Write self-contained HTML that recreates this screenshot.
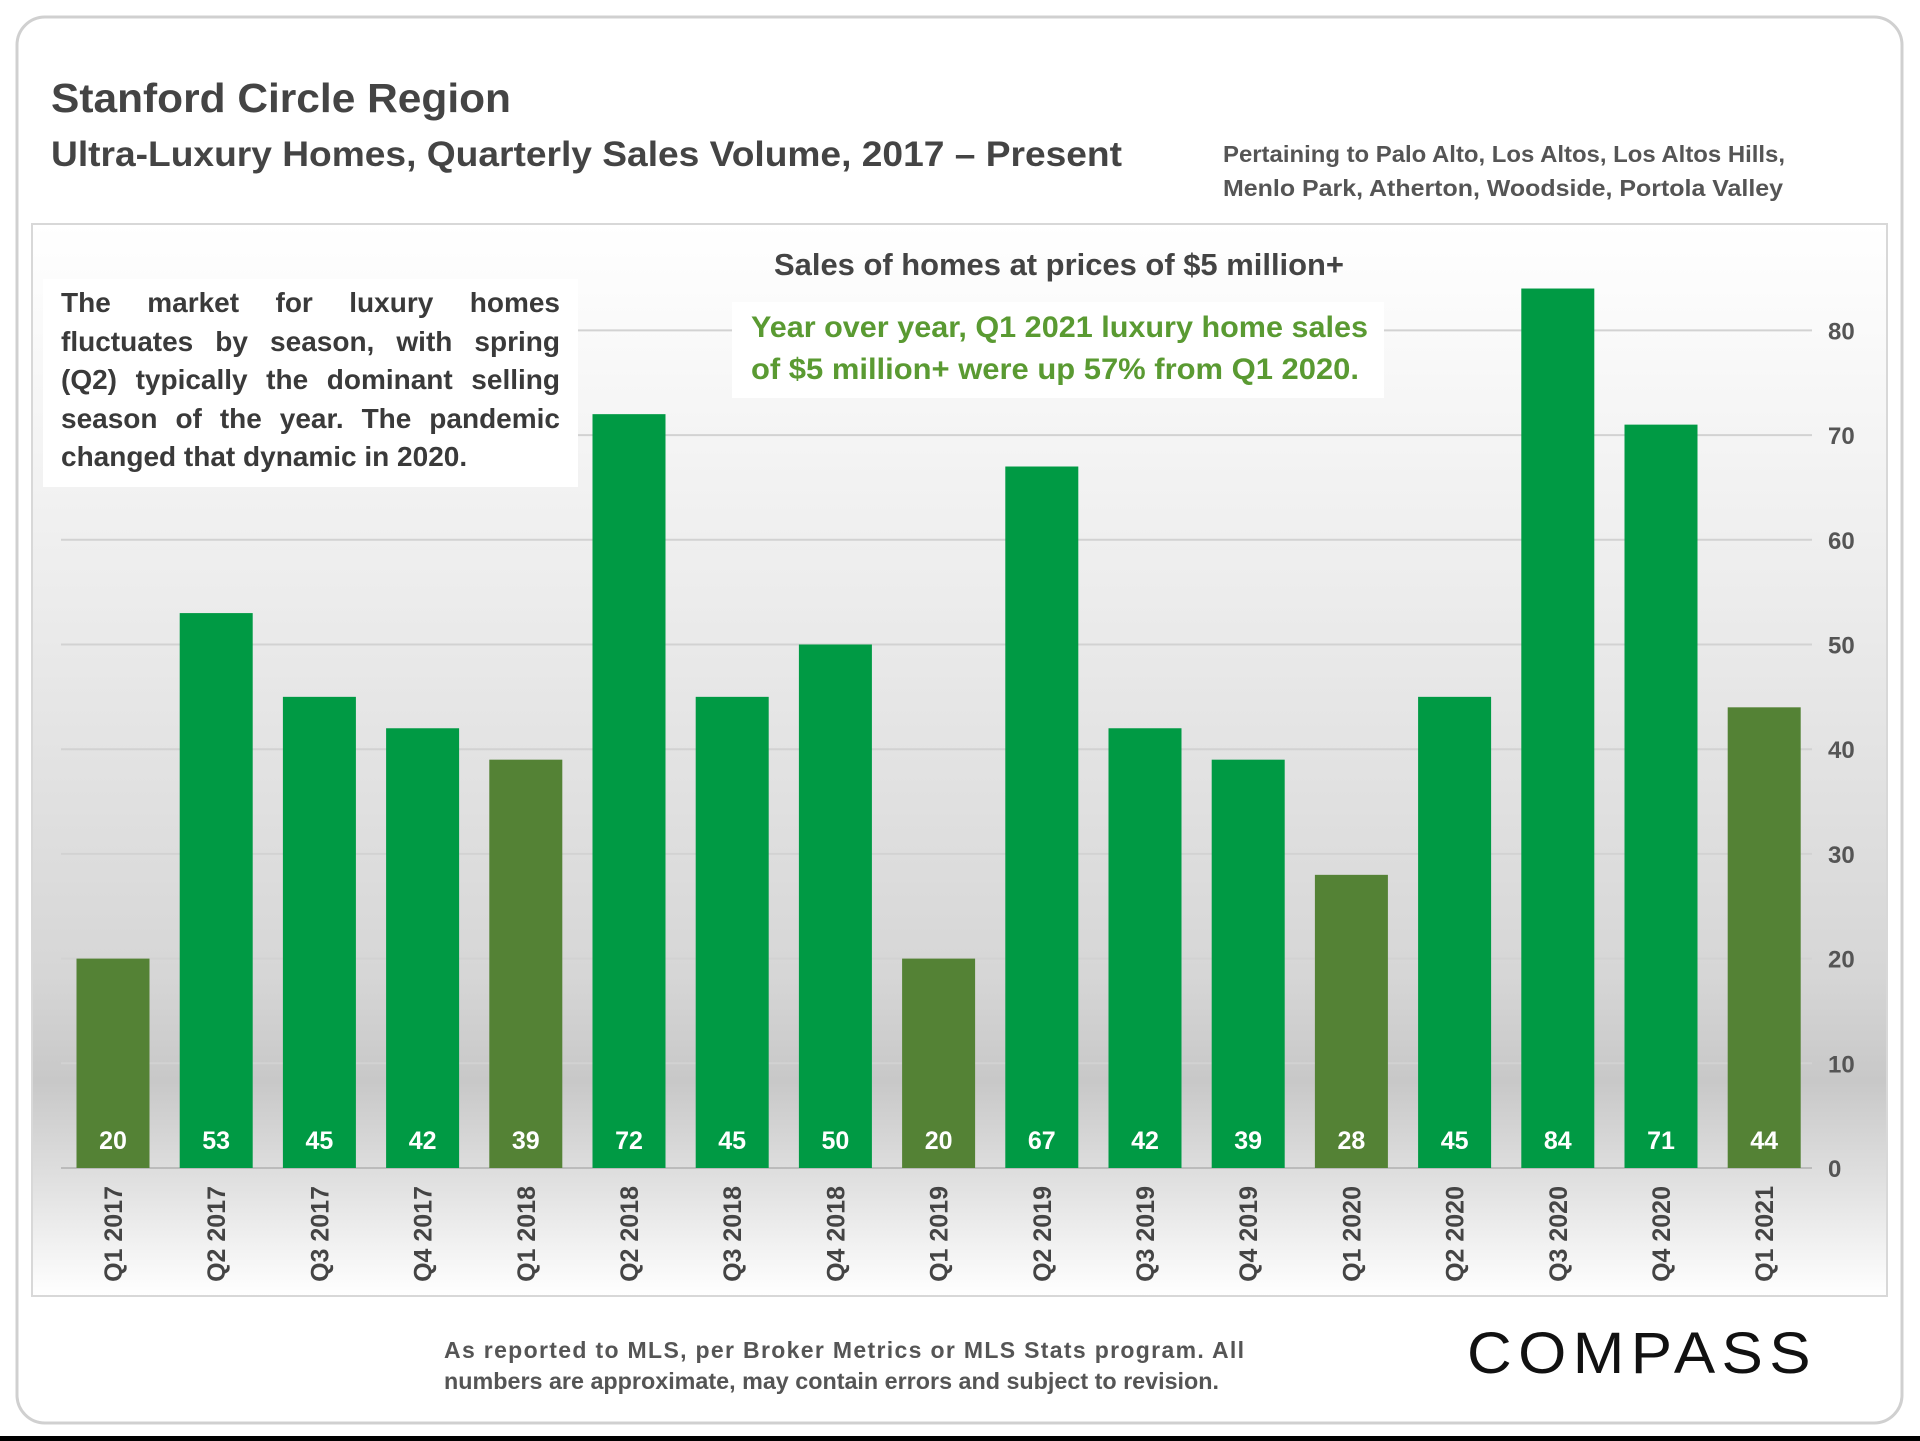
<!DOCTYPE html>
<html><head><meta charset="utf-8"><style>
body{margin:0;background:#fff;position:relative;}
svg{display:block;font-family:"Liberation Sans",sans-serif;}
#note{position:absolute;left:61px;top:284px;width:499px;font-family:"Liberation Sans",sans-serif;font-size:28px;font-weight:bold;color:#3a3a3a;}
#note div{height:38.5px;line-height:38.5px;text-align:justify;text-align-last:justify;white-space:nowrap;}
#note div.last{text-align-last:left;}
</style></head><body>
<svg id="chart" width="1920" height="1441" viewBox="0 0 1920 1441" xmlns="http://www.w3.org/2000/svg">
<defs>
<linearGradient id="bg" x1="0" y1="0" x2="0" y2="1">
<stop offset="0" stop-color="#ffffff"/>
<stop offset="0.35" stop-color="#ececec"/>
<stop offset="0.7" stop-color="#d6d6d6"/>
<stop offset="0.8" stop-color="#c8c8c8"/>
<stop offset="0.9" stop-color="#e2e2e2"/>
<stop offset="1" stop-color="#ffffff"/>
</linearGradient>
</defs>
<rect x="0" y="1436" width="1920" height="5" fill="#000"/>
<rect x="17" y="17" width="1885" height="1406" rx="28" fill="#fff" stroke="#d0d0d0" stroke-width="3"/>
<text x="51" y="112" font-size="41" font-weight="bold" fill="#444" textLength="460" lengthAdjust="spacingAndGlyphs">Stanford Circle Region</text>
<text x="51" y="166" font-size="35" font-weight="bold" fill="#444" textLength="1071" lengthAdjust="spacingAndGlyphs">Ultra-Luxury Homes, Quarterly Sales Volume, 2017 – Present</text>
<text x="1223" y="162" font-size="23" font-weight="bold" fill="#555" textLength="562" lengthAdjust="spacingAndGlyphs">Pertaining to Palo Alto, Los Altos, Los Altos Hills,</text>
<text x="1223" y="196" font-size="23" font-weight="bold" fill="#555" textLength="560" lengthAdjust="spacingAndGlyphs">Menlo Park, Atherton, Woodside, Portola Valley</text>
<rect x="32" y="224" width="1855" height="1072" fill="url(#bg)" stroke="#d8d8d8" stroke-width="2"/>
<g id="grid"></g>
<g id="bars"></g>
<g id="labels"></g>
<rect x="43" y="279" width="535" height="208" fill="#fff"/>
<text x="1059" y="275" font-size="31" font-weight="bold" fill="#444" text-anchor="middle" textLength="570" lengthAdjust="spacingAndGlyphs">Sales of homes at prices of $5 million+</text>
<rect x="732" y="302" width="652" height="96" fill="#fff"/>
<text x="751" y="337" font-size="30" font-weight="bold" fill="#5a9a32" textLength="617" lengthAdjust="spacingAndGlyphs">Year over year, Q1 2021 luxury home sales</text>
<text x="751" y="379" font-size="30" font-weight="bold" fill="#5a9a32" textLength="608" lengthAdjust="spacingAndGlyphs">of $5 million+ were up 57% from Q1 2020.</text>
<text x="444" y="1358" font-size="23" font-weight="bold" fill="#555" textLength="800" lengthAdjust="spacing">As reported to MLS, per Broker Metrics or MLS Stats program. All</text>
<text x="444" y="1389" font-size="23" font-weight="bold" fill="#555" textLength="775" lengthAdjust="spacingAndGlyphs">numbers are approximate, may contain errors and subject to revision.</text>
<text x="1467" y="1373" font-size="58" fill="#111" textLength="350" lengthAdjust="spacingAndGlyphs" letter-spacing="6">COMPASS</text>
</svg>
<div id="note">
<div>The market for luxury homes</div>
<div>fluctuates by season, with spring</div>
<div>(Q2) typically the dominant selling</div>
<div>season of the year. The pandemic</div>
<div class="last">changed that dynamic in 2020.</div>
</div>
<script>
const categories=["Q1 2017","Q2 2017","Q3 2017","Q4 2017","Q1 2018","Q2 2018","Q3 2018","Q4 2018","Q1 2019","Q2 2019","Q3 2019","Q4 2019","Q1 2020","Q2 2020","Q3 2020","Q4 2020","Q1 2021"];
const salesValues=[20,53,45,42,39,72,45,50,20,67,42,39,28,45,84,71,44];
const yTicks=[0,10,20,30,40,50,60,70,80];
const NS="http://www.w3.org/2000/svg";
const baseY=1168, unit=10.47, x0=113, step=103.2, bw=73;
function yScale(v){return baseY-v*unit;}
function xScale(i){return x0+i*step;}
const grid=document.getElementById('grid'),bars=document.getElementById('bars'),labels=document.getElementById('labels');
function mk(tag,attrs,parent){const e=document.createElementNS(NS,tag);for(const k in attrs)e.setAttribute(k,attrs[k]);parent.appendChild(e);return e;}
yTicks.forEach(t=>{
 const l=mk('line',{x1:61,x2:1812,y1:yScale(t),y2:yScale(t),stroke:t===0?'#bbb':'#d2d2d2','stroke-width':2},grid);
 
 
 const tx=mk('text',{x:1828,y:yScale(t)+9,'font-size':24,'font-weight':'bold',fill:'#555'},grid);
 tx.textContent=t;
 
 
});
categories.forEach((c,i)=>{
 const v=salesValues[i];
 const cx=xScale(i);
 const r=mk('rect',{x:cx-bw/2,y:yScale(v),width:bw,height:v*unit,fill:c.startsWith('Q1')?'#548235':'#009a44'},bars);
 
 
 const vl=mk('text',{x:cx,y:baseY-19,'font-size':25,'font-weight':'bold',fill:'#fff','text-anchor':'middle'},labels);
 vl.textContent=v;
 
 
 const xl=mk('text',{x:0,y:0,'font-size':25,'font-weight':'bold',fill:'#444','text-anchor':'end',transform:`translate(${cx+9},${baseY+18}) rotate(-90)`},labels);
 xl.textContent=c;
 
 
});
</script>
</body></html>
